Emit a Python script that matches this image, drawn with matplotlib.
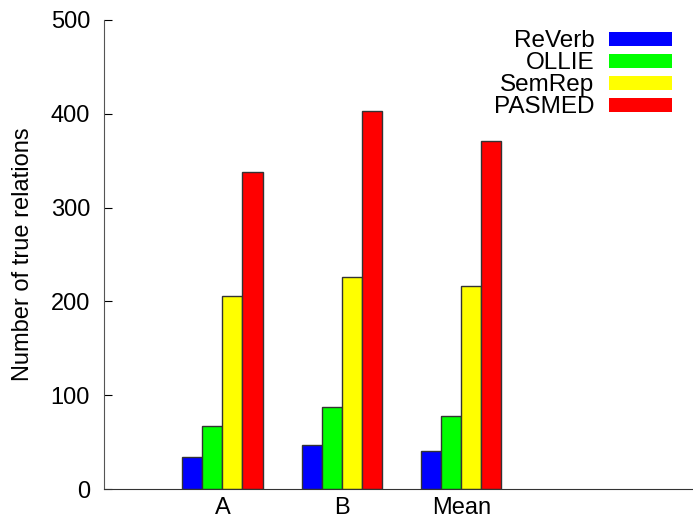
import matplotlib.pyplot as plt
import numpy as np
from matplotlib.patches import Patch

plt.rcParams['font.family'] = ['Liberation Sans', 'DejaVu Sans']

# -------------------------------------------------------------
groups = ["A", "B", "Mean"]
systems = ["ReVerb", "OLLIE", "SemRep", "PASMED"]
colors = ["#0000ff", "#00ff00", "#ffff00", "#ff0000"]
values = {
    "ReVerb": [34, 47, 40],
    "OLLIE": [67, 87, 78],
    "SemRep": [206, 226, 216],
    "PASMED": [338, 403, 371],
}

# -------------------------------------------------------------
fig = plt.figure(figsize=(6.93, 5.22), dpi=100)
ax = fig.add_axes([0.150, 0.0632, 0.850, 0.8985])

x = np.arange(1, len(groups) + 1)
w = 0.168
for i, s in enumerate(systems):
    ax.bar(x + (i - 1.5) * w, values[s], width=w, color=colors[i],
           edgecolor="#333333", linewidth=1.0)

ax.set_xlim(0.008, 4.94)
ax.set_ylim(0, 500)
ax.set_xticks(x)
ax.set_xticklabels(groups)
ax.set_yticks(range(0, 501, 100))
ax.tick_params(axis="x", length=0, labelsize=17, pad=6)
ax.tick_params(axis="y", direction="in", length=6, labelsize=17, pad=10)
ax.spines["top"].set_visible(False)
ax.spines["right"].set_visible(False)
ax.spines["left"].set_color("#555555")
ax.spines["bottom"].set_color("#333333")
ax.set_ylabel("Number of true relations", fontsize=17, labelpad=12)

# -------------------------------------------------------------
handles = [Patch(facecolor=c, edgecolor="none") for c in colors]
ax.legend(handles, systems, loc="upper right", frameon=False, markerfirst=False,
          fontsize=17.5, handlelength=2.6, handleheight=0.5, labelspacing=0.0,
          handletextpad=0.6, bbox_to_anchor=(0.965, 0.978), borderaxespad=0,
          borderpad=0)

fig.savefig("out.png", dpi=100)
